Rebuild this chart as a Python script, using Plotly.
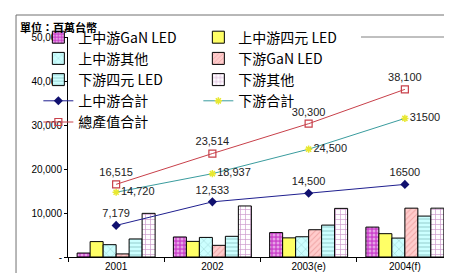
import plotly.graph_objects as go

years = ["2001", "2002", "2003(e)", "2004(f)"]

up_gan = [900, 4550, 5550, 6800]
up_quat = [3500, 3550, 4350, 5300]
up_other = [2800, 4450, 4600, 4300]
down_gan = [700, 2650, 6200, 11100]
down_quat = [4100, 4700, 7250, 9300]
down_other = [9920, 11600, 11050, 11100]

up_total = [7179, 12533, 14500, 16500]
down_total = [14720, 18937, 24500, 31500]
all_total = [16515, 23514, 30300, 38100]

up_total_lbl = ["7,179", "12,533", "14,500", "16500"]
down_total_lbl = ["14,720", "18,937", "24,500", "31500"]
all_total_lbl = ["16,515", "23,514", "30,300", "38,100"]

yticks = [0, 10000, 20000, 30000, 40000, 50000]
yticktext = ["-", "10,000", "20,000", "30,000", "40,000", "50,000"]

CJK = "Noto Sans CJK TC"
fig = go.Figure()

def bar(name, vals, color, shape=None, fg=None, size=5, sol=0.3):
    pat = dict(shape=shape, fgcolor=fg, size=size, solidity=sol, fillmode="overlay") if shape else None
    fig.add_trace(go.Bar(
        name=name, x=years, y=vals,
        marker=dict(color=color, line=dict(color="black", width=1),
                    pattern=pat),
    ))

bar("上中游GaN LED", up_gan, "#CC44CC", ".", "white", 4, 0.45)
bar("上中游四元 LED", up_quat, "#FFFF66")
bar("上中游其他", up_other, "#CCFFFF", "x", "#5A9A9A", 6, 0.15)
bar("下游GaN LED", down_gan, "#FFCCCC", "/", "#E08080", 4, 0.25)
bar("下游四元 LED", down_quat, "#CCFFFF", "-", "#5A9A9A", 4, 0.25)
bar("下游其他", down_other, "white", "+", "#993399", 5, 0.25)

fig.add_trace(go.Scatter(
    name="上中游合計", x=years, y=up_total, mode="lines+markers+text",
    line=dict(color="#1F1F8F", width=1),
    marker=dict(symbol="diamond", size=7, color="#10106F"),
    text=up_total_lbl, textposition="top center",
    textfont=dict(family="Arial", size=11, color="#222"),
))
fig.add_trace(go.Scatter(
    name="下游合計", x=years, y=down_total, mode="lines+markers+text",
    line=dict(color="#3A9C9E", width=1),
    marker=dict(symbol="asterisk", size=6, color="#E8E830", line=dict(color="#E8E830", width=1.5)),
    text=down_total_lbl, textposition="middle right",
    textfont=dict(family="Arial", size=11, color="#222"),
))
fig.add_trace(go.Scatter(
    name="總產值合計", x=years, y=all_total, mode="lines+markers+text",
    line=dict(color="#C8404A", width=1),
    marker=dict(symbol="square-open", size=7, color="#C8404A", line=dict(width=1.2)),
    text=all_total_lbl, textposition="top center",
    textfont=dict(family="Arial", size=11, color="#222"),
))

# plot frame: gray top (partly hidden by legend) and right
fig.add_shape(type="line", xref="paper", yref="paper", x0=0.761, x1=1, y0=1, y1=1,
              line=dict(color="#808080", width=1), layer="below")
fig.add_shape(type="line", xref="paper", yref="paper", x0=1, x1=1, y0=0, y1=1,
              line=dict(color="#808080", width=1), layer="below")
# outer chart border (left/top visible)
fig.add_shape(type="rect", xref="paper", yref="paper", x0=-0.135, x1=1.2, y0=-0.3, y1=1.1,
              line=dict(color="#707070", width=1), layer="below")

fig.add_annotation(text="<b>單位：百萬台幣</b>", xref="paper", yref="paper",
                   x=-0.13, y=1.093, xanchor="left", yanchor="top", showarrow=False,
                   font=dict(family=CJK, size=11, color="black"))

fig.update_layout(
    width=452, height=273,
    margin=dict(l=60, r=7, t=29, b=24),
    paper_bgcolor="white", plot_bgcolor="white",
    barmode="group", bargap=0.19, bargroupgap=0,
    showlegend=True,
    legend=dict(orientation="h", x=-0.077, y=1.07, xanchor="left", yanchor="top",
                entrywidth=115, entrywidthmode="pixels",
                bgcolor="rgba(255,255,255,0)", borderwidth=0,
                font=dict(family=CJK, size=14, color="black"),
                traceorder="normal", itemclick=False),
    xaxis=dict(type="category", showline=True, linecolor="black", linewidth=1,
               ticks="outside", tickson="boundaries", ticklen=4, tickcolor="black",
               tickfont=dict(family="Arial", size=10, color="black"), showgrid=False),
    yaxis=dict(range=[0, 50000], tickvals=yticks, ticktext=yticktext,
               showline=True, linecolor="black", linewidth=1,
               ticks="outside", ticklen=3, tickcolor="black",
               tickfont=dict(family="Arial", size=10, color="black"),
               showgrid=False, zeroline=False),
)

fig.write_html("out.html")
